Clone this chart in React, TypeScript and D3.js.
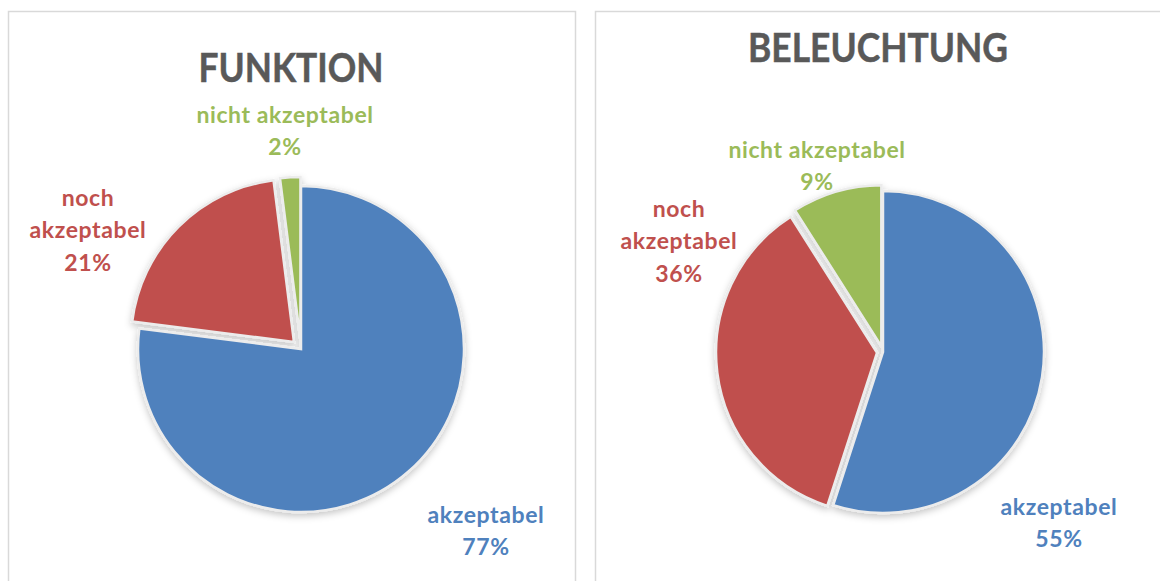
import React, { useEffect, useRef } from "react";
import * as d3 from "d3";

// data
const categories = ["akzeptabel", "noch akzeptabel", "nicht akzeptabel"];
const funktionValues = [77, 21, 2];
const beleuchtungValues = [55, 36, 9];
const titles = ["FUNKTION", "BELEUCHTUNG"];

const colors = ["#4F81BD", "#C0504D", "#9BBB59"];

// label line breaks per category (percent appended)
const labelLines = [["akzeptabel"], ["noch", "akzeptabel"], ["nicht akzeptabel"]];

const charts = [
  {
    title: titles[0],
    values: funktionValues,
    cx: 301, cy: 349, r: 163,
    explode: [0, 10, 9],
    titleX: 291, titleY: 82, titleW: 185,
    labelOffsets: [[185, 182], [-213, -119], [-16, -218]],
  },
  {
    title: titles[1],
    values: beleuchtungValues,
    cx: 883, cy: 352, r: 161,
    explode: [0, 6, 6],
    titleX: 878, titleY: 62, titleW: 260,
    labelOffsets: [[176, 171], [-204, -111], [-66, -186]],
  },
];

const App = () => {
  const ref = useRef<SVGSVGElement>(null);

  useEffect(() => {
    const svg = d3.select(ref.current);
    svg.selectAll("*").remove();

    const defs = svg.append("defs");
    const f = defs.append("filter").attr("id", "shadow")
      .attr("x", "-20%").attr("y", "-20%").attr("width", "140%").attr("height", "140%");
    f.append("feDropShadow").attr("dx", 0).attr("dy", 3).attr("stdDeviation", 3.5)
      .attr("flood-color", "#000").attr("flood-opacity", 0.22);

    svg.append("rect").attr("width", 1160).attr("height", 581).attr("fill", "#fff");

    // panel frames
    svg.append("rect").attr("x", 8.5).attr("y", 11.5).attr("width", 567).attr("height", 600)
      .attr("fill", "none").attr("stroke", "#d9d9d9").attr("stroke-width", 1.5);
    svg.append("rect").attr("x", 595.5).attr("y", 11.5).attr("width", 600).attr("height", 600)
      .attr("fill", "none").attr("stroke", "#d9d9d9").attr("stroke-width", 1.5);

    const font = "Lato, 'Open Sans', sans-serif";

    charts.forEach((c) => {
      const pie = d3.pie<number>().sort(null).value((d) => d);
      const arcs = pie(c.values);
      const arc = d3.arc<d3.PieArcDatum<number>>().innerRadius(0).outerRadius(c.r);

      svg.append("text")
        .attr("x", c.titleX).attr("y", c.titleY)
        .attr("text-anchor", "middle")
        .attr("font-family", font).attr("font-weight", 700)
        .attr("font-size", 41)
        .attr("fill", "#595959")
        .attr("stroke", "#595959").attr("stroke-width", 0.5)
        .attr("textLength", c.titleW).attr("lengthAdjust", "spacingAndGlyphs")
        .text(c.title);

      const g = svg.append("g")
        .attr("transform", `translate(${c.cx},${c.cy})`)
        .attr("filter", "url(#shadow)");

      g.selectAll("path")
        .data(arcs)
        .enter()
        .append("path")
        .attr("d", arc)
        .attr("transform", (d, i) => {
          const mid = (d.startAngle + d.endAngle) / 2;
          const e = c.explode[i];
          return `translate(${Math.sin(mid) * e},${-Math.cos(mid) * e})`;
        })
        .attr("fill", (d, i) => colors[i])
        .attr("stroke", "#ececec")
        .attr("stroke-width", 2.5)
        .attr("stroke-linejoin", "miter");

      arcs.forEach((d, i) => {
        const lines = [...labelLines[i], `${c.values[i]}%`];
        const [dx, dy] = c.labelOffsets[i];
        const lh = 32.5;
        const x = c.cx + dx;
        const y0 = c.cy + dy - ((lines.length - 1) * lh) / 2 + 8;
        const t = svg.append("text")
          .attr("text-anchor", "middle")
          .attr("font-family", font).attr("font-weight", 700)
          .attr("font-size", 23)
          .attr("letter-spacing", 0.6)
          .attr("fill", colors[i]);
        lines.forEach((l, k) => {
          t.append("tspan").attr("x", x).attr("y", y0 + k * lh).text(l);
        });
      });
    });
  }, []);

  return (
    <svg
      ref={ref}
      width={1160}
      height={581}
      style={{ position: "absolute", left: 0, top: 0 }}
    />
  );
};

export default App;
